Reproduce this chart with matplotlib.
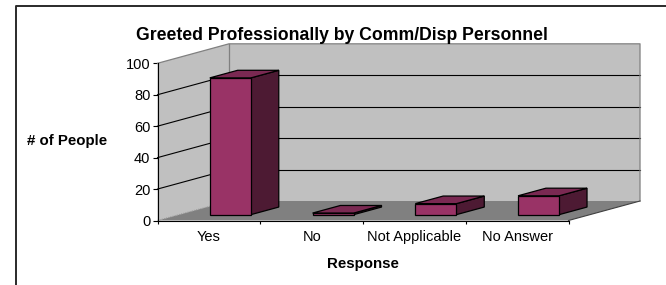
import matplotlib
matplotlib.use("Agg")
import matplotlib.pyplot as plt
from matplotlib.patches import Polygon
from matplotlib.lines import Line2D

categories = ["Yes", "No", "Not Applicable", "No Answer"]
values = [87, 1, 7, 12]
y_ticks = [0, 20, 40, 60, 80, 100]
title = "Greeted Professionally by Comm/Disp Personnel"
x_title = "Response"
y_title = "# of People"

plt.rcParams['font.family'] = ['Liberation Sans', 'DejaVu Sans']

W, H = 666, 285
fig = plt.figure(figsize=(W / 100, H / 100), dpi=100)
fig.patch.set_facecolor('white')

ax = fig.add_axes([157.5 / W, (H - 220.5) / H, 411 / W, 157.2 / H])
n = len(categories)
ymax = y_ticks[-1]
ax.set_xlim(0, n)
ax.set_ylim(0, ymax)
ax.set_facecolor('none')
for s in ['top', 'right']:
    ax.spines[s].set_visible(False)
for s in ['left', 'bottom']:
    ax.spines[s].set_color('black')
    ax.spines[s].set_linewidth(0.8)
    ax.spines[s].set_zorder(6)

# depth (oblique projection) in data units
DX, DY = 0.696, 12.4
f0, f1 = 0.30, 0.69
bw = 0.40


def P(pts, **kw):
    ax.add_patch(Polygon(pts, closed=True, clip_on=False, **kw))


def L(xs, ys, **kw):
    ax.add_line(Line2D(xs, ys, clip_on=False, **kw))


# walls and floor
P([(0, 0), (0, ymax), (DX, ymax + DY), (DX, DY)], facecolor='#c0c0c0', edgecolor='none', zorder=1)
P([(DX, DY), (DX, ymax + DY), (n + DX, ymax + DY), (n + DX, DY)], facecolor='#c0c0c0', edgecolor='none', zorder=1)
P([(0, 0), (n, 0), (n + DX, DY), (DX, DY)], facecolor='#808080', edgecolor='none', zorder=1)

for v in y_ticks[1:-1]:
    L([0, DX], [v, v + DY], color='black', lw=0.8, zorder=2)
    L([DX, n + DX], [v + DY, v + DY], color='black', lw=0.8, zorder=2)

L([0, DX, n + DX, n + DX], [ymax, ymax + DY, ymax + DY, DY], color='#808080', lw=0.9, zorder=2)
L([DX, DX], [DY, ymax + DY], color='#808080', lw=0.9, zorder=2)
L([0, DX], [0, DY], color='#9a9a9a', lw=0.8, ls=(0, (1, 1)), zorder=2)
L([n, n + DX], [0, DY], color='#404040', lw=0.8, zorder=2)

# bars
ddx, ddy = (f1 - f0) * DX, (f1 - f0) * DY
for i, v in enumerate(values):
    x0 = i + 0.5 - bw / 2 + f0 * DX
    x1 = x0 + bw
    y0 = f0 * DY
    front = [(x0, y0), (x1, y0), (x1, y0 + v), (x0, y0 + v)]
    side = [(x1, y0), (x1 + ddx, y0 + ddy), (x1 + ddx, y0 + ddy + v), (x1, y0 + v)]
    top = [(x0, y0 + v), (x1, y0 + v), (x1 + ddx, y0 + v + ddy), (x0 + ddx, y0 + v + ddy)]
    kw = dict(edgecolor='black', lw=0.9, joinstyle='miter', zorder=4)
    P(side, facecolor='#4d1a33', **kw)
    P(top, facecolor='#7a2952', **kw)
    P(front, facecolor='#993366', **kw)

# ticks
ax.set_yticks(y_ticks)
ax.set_yticklabels([str(t) for t in y_ticks])
ax.tick_params(axis='y', direction='out', length=3.6, width=0.8, pad=1.5, labelsize=10.5, colors='black')
ax.set_xticks(range(n + 1))
ax.set_xticklabels([''] * (n + 1))
ax.tick_params(axis='x', which='major', direction='out', length=2.4, width=0.8)
ax.set_xticks([i + 0.5 for i in range(n)], minor=True)
ax.set_xticklabels(categories, minor=True)
ax.tick_params(axis='x', which='minor', length=0, pad=6.5, labelsize=10.5)

# titles
fig.text(342 / W, 1 - 35.5 / H, title, ha='center', va='center', fontsize=12.7, fontweight='bold')
fig.text(66.7 / W, 1 - 141.5 / H, y_title, ha='center', va='center', fontsize=10.8, fontweight='bold')
fig.text(363 / W, 1 - 264 / H, x_title, ha='center', va='center', fontsize=10.8, fontweight='bold')

# outer border (partial frame)
fig.add_artist(Line2D([15.5 / W, 15.5 / W, 1.0], [0.0, 1 - 5.7 / H, 1 - 5.7 / H],
                      transform=fig.transFigure, color='#2a2a2a', lw=1.4))

fig.savefig('out.png', dpi=100, facecolor='white')
